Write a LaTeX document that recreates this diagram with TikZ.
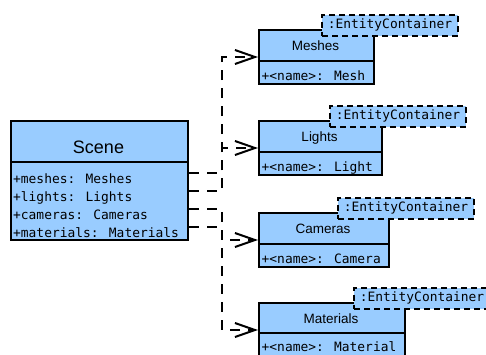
\documentclass[tikz,border=0pt]{standalone}
\usepackage{fontspec}
\setmainfont{Liberation Sans}
\newfontfamily\codefont{DejaVu Sans Mono}
\usetikzlibrary{arrows.meta}
\definecolor{umlfill}{RGB}{153,204,255}
\begin{document}
\begin{tikzpicture}[x=1pt,y=-1pt,
  classbox/.style={draw=black, fill=umlfill, line width=2pt, rectangle,
    inner sep=0pt, anchor=north west, minimum height=54pt},
  tagbox/.style={draw=black, fill=umlfill, line width=2pt,
    dash pattern=on 6pt off 4pt, rectangle, inner sep=0pt, anchor=north west,
    minimum width=136pt, minimum height=21pt,
    font=\codefont\fontsize{12.9}{14}\selectfont},
  titletext/.style={anchor=base, inner sep=0pt, font=\fontsize{13.5}{16}\selectfont},
  attrtext/.style={anchor=base west, inner sep=0pt,
    font=\codefont\fontsize{12.9}{14}\selectfont},
  divider/.style={line width=2pt},
  conn/.style={line width=2pt, dash pattern=on 10pt off 8pt},
  realize/.style={conn, -{Straight Barb[length=20pt,width=14pt]}}
]
\path[use as bounding box] (0,0) rectangle (486,354);
\clip (0,0) rectangle (486,354);

% Scene class
\node[classbox, minimum width=177pt, minimum height=119pt] (scene) at (10,120) {};
\draw[divider] (10,162) -- (187,162);
\node[titletext, font=\fontsize{18}{20}\selectfont] (scenename) at (98.5,153) {Scene};
\node[attrtext] (am) at (13,183) {+meshes: Meshes};
\node[attrtext] (al) at (13,201) {+lights: Lights};
\node[attrtext] (ac) at (13,219) {+cameras: Cameras};
\node[attrtext] (at) at (13,237) {+materials: Materials};

% Container classes
\node[classbox, minimum width=115pt] (meshes) at (258,29) {};
\node[classbox, minimum width=123pt] (lights) at (258,120) {};
\node[classbox, minimum width=130pt] (cameras) at (258,212) {};
\node[classbox, minimum width=146pt] (materials) at (258,302) {};

\draw[divider] (258,61) -- (373,61);
\draw[divider] (258,152) -- (381,152);
\draw[divider] (258,244) -- (388,244);
\draw[divider] (258,333) -- (404,333);

\node[titletext] (meshesname) at (315.5,50) {Meshes};
\node[titletext] (lightsname) at (319.5,141) {Lights};
\node[titletext] (camerasname) at (323,233) {Cameras};
\node[titletext] (materialsname) at (331,323) {Materials};

\node[attrtext] (mattr) at (261.5,80) {+<name>: Mesh};
\node[attrtext] (lattr) at (261.5,171) {+<name>: Light};
\node[attrtext] (cattr) at (261.5,263) {+<name>: Camera};
\node[attrtext] (tattr) at (261.5,351) {+<name>: Material};

% Stereotype tags
\node[tagbox] (mtag) at (321,13.5) {:EntityContainer};
\node[tagbox] (ltag) at (329,104.5) {:EntityContainer};
\node[tagbox] (ctag) at (337,196.5) {:EntityContainer};
\node[tagbox] (ttag) at (353,286.5) {:EntityContainer};

% Connectors from the Scene attributes to the containers
\coordinate (bus) at (222,0);
\coordinate (pm) at (scene.east |- 0,173);
\coordinate (pl) at (scene.east |- 0,191);
\coordinate (pc) at (scene.east |- 0,209);
\coordinate (pt) at (scene.east |- 0,227);

\draw[realize] (pm) -- (pm -| bus) |- (meshes.west);
\draw[realize] (pl) -- (pl -| bus) |- (lights.west);
\draw[realize] (pc) -- (pc -| bus) |- (cameras.west);
\draw[realize] (pt) -- (pt -| bus) |- (materials.west);
\end{tikzpicture}
\end{document}
